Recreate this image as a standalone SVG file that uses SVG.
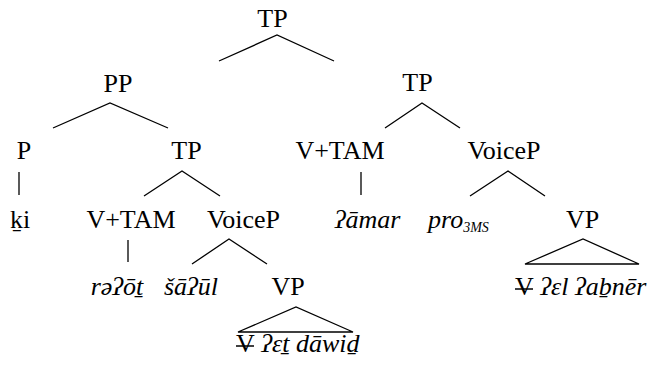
<svg xmlns="http://www.w3.org/2000/svg" width="648" height="369" viewBox="0 0 648 369">
<style>
.c{text-anchor:middle}
.i{font-style:italic}
.e{fill:none;stroke:#000;stroke-width:1.3}
.s{stroke:#000;stroke-width:1.5}
</style>
<rect width="648" height="369" fill="#fff"/>
<g id="connectors">
<polyline class="e" points="219,61 277,35 334,61"/>
<polyline class="e" points="53,128 110,103 168,128"/>
<polyline class="e" points="385,128 422,103 460,128"/>
<line class="e" x1="19" y1="172" x2="19" y2="195"/>
<polyline class="e" points="144,196 182,171 220,196"/>
<line class="e" x1="361" y1="172" x2="361" y2="195"/>
<polyline class="e" points="470,196 508,171 545,196"/>
<line class="e" x1="128" y1="240" x2="128" y2="262"/>
<polyline class="e" points="192,264 229,239 267,264"/>
<polygon class="e" points="525,264 583,239 639,264"/>
<polygon class="e" points="238,332 296,307 353,332"/>
</g>
<g font-family="Liberation Serif, Tinos, Times New Roman, serif" font-size="26" fill="#000">
<g id="n-tp0"><text class="c" x="272.5" y="27">TP</text></g>
<g id="n-pp"><text class="c" x="118" y="92">PP</text></g>
<g id="n-tp1"><text class="c" x="417.5" y="91">TP</text></g>
<g id="n-p"><text class="c" x="24" y="159">P</text></g>
<g id="n-tp2"><text class="c" x="186.5" y="159">TP</text></g>
<g id="n-vtam1"><text class="c" x="340" y="159">V+TAM</text></g>
<g id="n-voicep1"><text class="c" x="504" y="159">VoiceP</text></g>
<g id="n-ki"><text x="10" y="228">ḵi</text></g>
<g id="n-vtam2"><text class="c" x="131" y="228">V+TAM</text></g>
<g id="n-voicep2"><text class="c" x="243.5" y="228">VoiceP</text></g>
<g id="n-amar"><text class="c i" x="367.5" y="228">ʔāmar</text></g>
<g id="n-pro"><text class="i" x="428" y="228">pro<tspan font-size="14" dy="4">3MS</tspan></text></g>
<g id="n-vp1"><text class="c" x="582.5" y="228">VP</text></g>
<g id="n-v1"><text x="515" y="295">V<tspan class="i"> ʔɛl ʔaḇnēr</tspan></text><line class="s" x1="515" y1="289" x2="533" y2="289"/></g>
<g id="n-raot"><text class="c i" x="117" y="295">rəʔōṯ</text></g>
<g id="n-saul"><text class="c i" x="191" y="295">šāʔūl</text></g>
<g id="n-vp2"><text class="c" x="288" y="295">VP</text></g>
<g id="n-v2"><text x="236" y="352">V<tspan class="i"> ʔɛṯ dāwiḏ</tspan></text><line class="s" x1="236" y1="346" x2="254" y2="346"/></g>
</g>
</svg>
